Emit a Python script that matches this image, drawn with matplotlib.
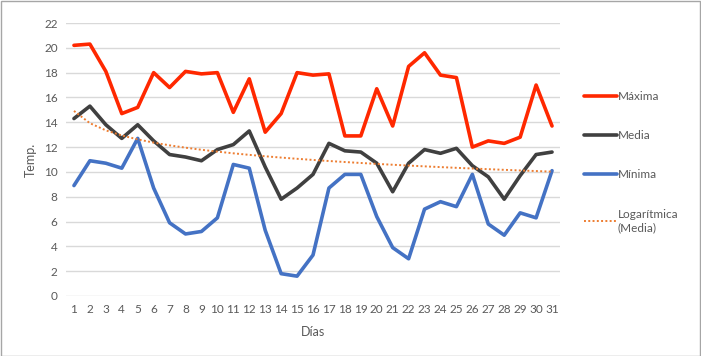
import numpy as np
import matplotlib
matplotlib.use("Agg")
import matplotlib.pyplot as plt
from matplotlib.patches import Rectangle

plt.rcParams['font.family'] = ['Lato', 'DejaVu Sans']

dias = list(range(1, 32))
maxima = [20.2, 20.3, 18.1, 14.7, 15.2, 18.0, 16.8, 18.1, 17.9, 18.0, 14.8, 17.5, 13.2, 14.7, 18.0,
          17.8, 17.9, 12.9, 12.9, 16.7, 13.7, 18.5, 19.6, 17.8, 17.6, 12.0, 12.5, 12.3, 12.8, 17.0, 13.7]
media = [14.3, 15.3, 13.8, 12.7, 13.8, 12.5, 11.4, 11.2, 10.9, 11.8, 12.2, 13.3, 10.4, 7.8, 8.7,
         9.8, 12.3, 11.7, 11.6, 10.7, 8.4, 10.7, 11.8, 11.5, 11.9, 10.5, 9.6, 7.8, 9.7, 11.4, 11.6]
minima = [8.9, 10.9, 10.7, 10.3, 12.7, 8.7, 5.9, 5.0, 5.2, 6.3, 10.6, 10.3, 5.3, 1.8, 1.6,
          3.3, 8.7, 9.8, 9.8, 6.4, 3.9, 3.0, 7.0, 7.6, 7.2, 9.8, 5.8, 4.9, 6.7, 6.3, 10.1]

x = np.array(dias)
# logarithmic trendline of Media
a, b = np.polyfit(np.log(x), media, 1)
trend = a * np.log(x) + b

fig = plt.figure(figsize=(7.01, 3.56), dpi=100)
ax = fig.add_axes([66/701, 1-296/356, (560-66)/701, (296-23)/356])

txtc = '#595959'
ax.plot(x, maxima, color='#FF2800', lw=2.6, label='Máxima', solid_capstyle='round')
ax.plot(x, media, color='#404040', lw=2.6, label='Media', solid_capstyle='round')
ax.plot(x, minima, color='#4472C4', lw=2.6, label='Mínima', solid_capstyle='round')
ax.plot(x, trend, color='#ED7D31', lw=1.4, ls=(0, (1, 1.2)), label='Logarítmica\n(Media)')

ax.set_xlim(0.5, 31.5)
ax.set_ylim(0, 22)
ax.set_yticks(range(0, 23, 2))
ax.set_xticks(dias)
ax.grid(axis='y', color='#D9D9D9', lw=1)
ax.set_axisbelow(True)
for s in ax.spines.values():
    s.set_visible(False)
ax.tick_params(length=0, labelsize=8.5, labelcolor=txtc, pad=6)
ax.set_xlabel('Días', fontsize=9, color=txtc, labelpad=8)
ax.set_ylabel('Temp.', fontsize=9, color=txtc, labelpad=5)

leg = ax.legend(loc='upper left', bbox_to_anchor=(579/701, 1-86/356), bbox_transform=fig.transFigure,
                frameon=False, fontsize=8.5, labelcolor=txtc, handlelength=2.8,
                handletextpad=0.1, labelspacing=2.4, borderaxespad=0)
for t in leg.get_texts():
    t.set_linespacing(1.3)

fig.patches.append(Rectangle((0.5/701, 0.5/356), 1-1.5/701, 1-1.5/356, transform=fig.transFigure,
                             fill=False, edgecolor='#A6A6A6', lw=1))
fig.savefig('out.png', dpi=100)
